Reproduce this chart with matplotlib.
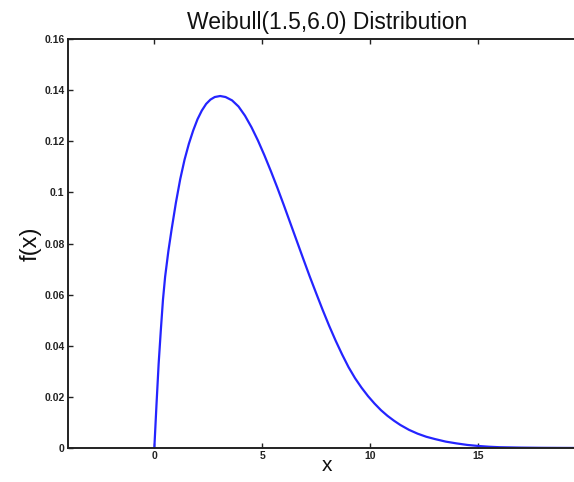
import matplotlib
matplotlib.use("Agg")
import matplotlib.pyplot as plt

# Values
x_vals = [0.00, 0.10, 0.20, 0.30, 0.40, 0.50, 0.65, 0.80, 1.00, 1.20, 1.40, 1.60, 1.80,
          2.00, 2.20, 2.40, 2.60, 2.80, 3.05, 3.30, 3.60, 3.90, 4.20, 4.50, 4.80, 5.10,
          5.40, 5.70, 6.00, 6.30, 6.60, 6.90, 7.20, 7.50, 7.80, 8.10, 8.40, 8.70, 9.00,
          9.30, 9.60, 9.90, 10.2, 10.5, 10.8, 11.1, 11.4, 11.8, 12.2, 12.6, 13.0, 13.5,
          14.0, 14.5, 15.0, 15.5, 16.0, 17.0, 18.0, 19.0, 20.0]
y_vals = [0.0000, 0.0170, 0.0330, 0.0460, 0.0580, 0.0670, 0.0770, 0.0855, 0.0960, 0.1052,
          0.1128, 0.1190, 0.1242, 0.1286, 0.1320, 0.1346, 0.1363, 0.1373, 0.1377, 0.1373,
          0.1360, 0.1336, 0.1300, 0.1255, 0.1203, 0.1145, 0.1083, 0.1018, 0.0950, 0.0880,
          0.0810, 0.0740, 0.0671, 0.0605, 0.0540, 0.0478, 0.0420, 0.0366, 0.0316, 0.0273,
          0.0236, 0.0203, 0.0174, 0.0148, 0.0126, 0.0107, 0.0090, 0.0071, 0.0056, 0.0044,
          0.0035, 0.0025, 0.0018, 0.0012, 0.0008, 0.0005, 0.0003, 0.00015, 0.00007,
          0.00003, 0.00001]

x_ticks = [0, 5, 10, 15]
x_tick_labels = ["0", "5", "10", "15"]
y_ticks = [0, 0.02, 0.04, 0.06, 0.08, 0.10, 0.12, 0.14, 0.16]
y_tick_labels = ["0", "0.02", "0.04", "0.06", "0.08", "0.1", "0.12", "0.14", "0.16"]

title_text = "Weibull(1.5,6.0) Distribution"
x_label = "x"
y_label = "f(x)"

plt.rcParams['font.family'] = ['Liberation Sans', 'DejaVu Sans']

W, H = 574, 482
fig = plt.figure(figsize=(W / 100, H / 100), dpi=100)
left, right, bottom, top = 68, 586, 448, 39
ax = fig.add_axes([left / W, (H - bottom) / H, (right - left) / W, (bottom - top) / H])

ax.plot(x_vals, y_vals, color='#2424ff', linewidth=1.6, solid_capstyle='round',
        solid_joinstyle='round')

ax.set_xlim(-4, 20)
ax.set_ylim(0, 0.16)
ax.set_xticks(x_ticks)
ax.set_xticklabels(x_tick_labels)
ax.set_yticks(y_ticks)
ax.set_yticklabels(y_tick_labels)

ax.tick_params(direction='in', length=3.5, width=1.0, colors='#222222',
               labelsize=7.5, top=True, right=True, pad=2.5)
for lab in ax.get_xticklabels() + ax.get_yticklabels():
    lab.set_fontweight('bold')

for sp in ax.spines.values():
    sp.set_linewidth(1.4)
    sp.set_color('#222222')

ax.set_title(title_text, fontsize=16.5, pad=7, color='#111111')
ax.set_xlabel(x_label, fontsize=15, labelpad=-4, color='#111111')
ax.set_ylabel(y_label, fontsize=17, color='#111111')
ax.yaxis.set_label_coords(-0.05, 0.5)

fig.savefig("out.png", dpi=100)
